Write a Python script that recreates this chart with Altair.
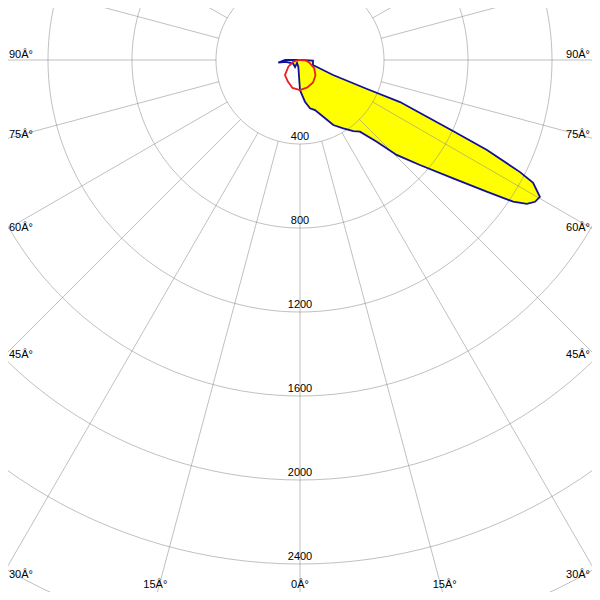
import math
import altair as alt
import pandas as pd

# ---- data (angle in degrees from nadir, +right; intensity in cd)
blue_angle = [0, 6.8, 11.7, 16.7, 22.3, 27.1, 32.4, 36.9, 39.9, 43.2, 45.5, 48.8,
              52.3, 54.8, 56.4, 57.6, 58.9, 60.3, 62.2, 63.0, 64.3, 65.1, 66.2,
              67.2, 66.6, 65.6, 69.0, 87.0, 180, -90, -83, -82, -63, -35, -45, -14, 0]
blue_cd = [143, 200, 235, 249, 292, 348, 385, 423, 445, 534, 645, 759,
           922, 1088, 1219, 1279, 1307, 1315, 1255, 1176, 988, 803, 625,
           517, 348, 173, 66, 62, 0, 71, 104, 67, 37, 41, 20, 33, 143]

red_angle = [-90, -75, -60, -45, -30, -15, 0, 15, 30, 45, 60, 75, 90, 180, -90]
red_cd = [10, 35, 64, 101, 117, 138, 143, 135, 124, 104, 78, 45, 24, 0, 10]

ring_values = [400, 800, 1200, 1600, 2000, 2400, 2800]
ring_labels = ["400", "800", "1200", "1600", "2000", "2400"]
spoke_angles = list(range(-165, 181, 15))
angle_label_values = [90, 75, 60, 45, 30, 15]

# ---- geometry of the frame (in cd units)
PX = 0.21            # px per cd
W = H = 584
x_dom = [(8 - 300) / PX, (592 - 300) / PX]
y_dom = [-(592 - 60) / PX, -(8 - 60) / PX]
XR = (600 - 300) / PX
YB = (600 - 60) / PX


def polar(angles, vals, name):
    rows = []
    for i, (a, v) in enumerate(zip(angles, vals)):
        t = math.radians(a)
        rows.append({"x": v * math.sin(t), "y": -v * math.cos(t), "i": i, "s": name})
    return pd.DataFrame(rows)


blue = polar(blue_angle, blue_cd, "C0-C180")
red = polar(red_angle, red_cd, "C90-C270")

circ = []
for r in ring_values:
    for k, a in enumerate(range(0, 362, 2)):
        t = math.radians(a)
        circ.append({"x": r * math.sin(t), "y": -r * math.cos(t), "i": k, "ring": r})
circ = pd.DataFrame(circ)

spokes = []
for a in spoke_angles:
    t = math.radians(a)
    spokes.append({"x": 400 * math.sin(t), "y": -400 * math.cos(t),
                   "x2": 3400 * math.sin(t), "y2": -3400 * math.cos(t)})
spokes = pd.DataFrame(spokes)

rlab = pd.DataFrame({"x": [0] * len(ring_labels),
                     "y": [-int(v) for v in ring_labels],
                     "t": ring_labels})

left, right, bottom = [], [], []
for a in angle_label_values + [0]:
    for sgn in ([-1, 1] if a != 0 else [1]):
        t = math.radians(a * sgn)
        s, c = math.sin(t), math.cos(t)
        ts = XR / abs(s) if abs(s) > 1e-9 else 1e9
        tb = YB / c if c > 1e-9 else 1e9
        tt = min(ts, tb)
        row = {"x": tt * s, "y": -tt * c, "t": f"{a}\u00c2\u00b0"}
        if tb < ts:
            bottom.append(row)
        elif sgn < 0:
            left.append(row)
        else:
            right.append(row)
left, right, bottom = pd.DataFrame(left), pd.DataFrame(right), pd.DataFrame(bottom)

xs = alt.Scale(domain=x_dom, nice=False, zero=False)
ys = alt.Scale(domain=y_dom, nice=False, zero=False)
X = alt.X("x:Q", scale=xs, axis=None)
Y = alt.Y("y:Q", scale=ys, axis=None)

fill = alt.Chart(blue).mark_line(fill="#ffff00", stroke="#ffff00", strokeWidth=1, clip=True).encode(
    x=X, y=Y, order="i:Q")

grid_c = alt.Chart(circ).mark_line(color="#8c8c8c", opacity=0.55, strokeWidth=1, clip=True).encode(
    x=X, y=Y, detail="ring:N", order="i:Q")
grid_s = alt.Chart(spokes).mark_rule(color="#8c8c8c", opacity=0.55, strokeWidth=1, clip=True).encode(
    x=X, y=Y, x2="x2:Q", y2="y2:Q")

blue_line = alt.Chart(blue).mark_line(color="#10109c", strokeWidth=1.8, clip=True).encode(
    x=X, y=Y, order="i:Q")
red_line = alt.Chart(red).mark_line(color="#ee1c1c", strokeWidth=1.8, clip=True).encode(
    x=X, y=Y, order="i:Q")

font = "Liberation Sans"
tr = alt.Chart(rlab).mark_text(font=font, fontSize=11, color="black", align="center",
                               baseline="middle", dy=-7).encode(x=X, y=Y, text="t:N")
tl = alt.Chart(left).mark_text(font=font, fontSize=11, color="black", align="left",
                               baseline="alphabetic", dx=9, dy=-2).encode(x=X, y=Y, text="t:N")
trt = alt.Chart(right).mark_text(font=font, fontSize=11, color="black", align="right",
                                 baseline="alphabetic", dx=-10, dy=-2).encode(x=X, y=Y, text="t:N")
tb_ = alt.Chart(bottom).mark_text(font=font, fontSize=11, color="black", align="center",
                                  baseline="alphabetic", dy=-12).encode(x=X, y=Y, text="t:N")

chart = alt.layer(fill, grid_c, grid_s, blue_line, red_line, tr, tl, trt, tb_).properties(
    width=W, height=H, padding=0, autosize=alt.AutoSizeParams(type="none"),
    background="white"
).configure_view(strokeWidth=0)

chart.save("out.html", embed_options={"renderer": "svg", "actions": False})
